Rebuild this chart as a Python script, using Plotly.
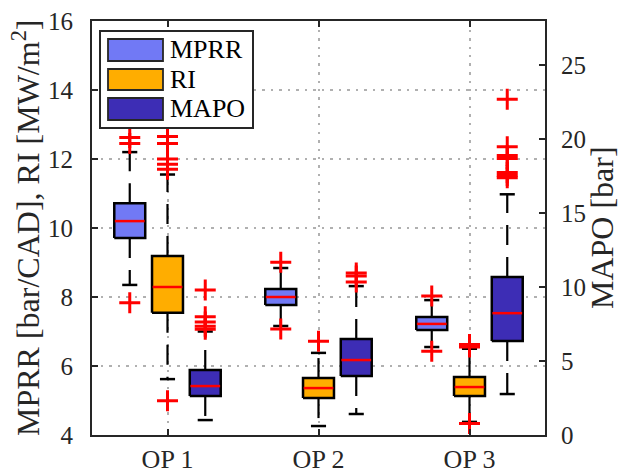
import plotly.graph_objects as go

# Operating points on the category axis
groups = ["OP 1", "OP 2", "OP 3"]

# MPRR [bar/CAD] box statistics (left axis)
mprr_q1 = [9.71, 7.77, 7.04]
mprr_med = [10.2, 8.0, 7.22]
mprr_q3 = [10.72, 8.23, 7.42]
mprr_lo = [8.35, 7.16, 6.55]
mprr_hi = [12.2, 8.84, 7.91]
mprr_out = [[12.62, 12.45, 7.83], [9.01, 7.07], [8.03, 6.43]]

# RI [MW/m^2] box statistics (left axis)
ri_q1 = [7.54, 5.07, 5.13]
ri_med = [8.29, 5.36, 5.39]
ri_q3 = [9.19, 5.65, 5.68]
ri_lo = [5.62, 4.26, 4.38]
ri_hi = [11.55, 6.38, 6.5]
ri_out = [[12.65, 12.45, 12.0, 11.85, 11.7, 4.99], [6.72], [6.62, 6.55, 4.33]]

# MAPO [bar] box statistics (right axis)
mapo_q1 = [2.64, 3.99, 6.35]
mapo_med = [3.31, 5.07, 8.24]
mapo_q3 = [4.39, 6.49, 10.68]
mapo_lo = [1.01, 1.42, 2.77]
mapo_hi = [7.0, 10.07, 16.28]
mapo_out = [[9.8, 8.0, 7.65, 7.35, 7.15], [10.95, 10.75, 10.34],
            [22.7, 19.5, 18.9, 18.7, 17.75, 17.55, 17.4]]

FONT = "Liberation Serif, Times New Roman, serif"
INK = "#262626"
series = [
    dict(name="MPRR", color="#7179f5", q1=mprr_q1, med=mprr_med, q3=mprr_q3,
         lo=mprr_lo, hi=mprr_hi, out=mprr_out, offset=-0.25, yaxis="y"),
    dict(name="RI", color="#ffad00", q1=ri_q1, med=ri_med, q3=ri_q3,
         lo=ri_lo, hi=ri_hi, out=ri_out, offset=0.0, yaxis="y"),
    dict(name="MAPO", color="#3d2db5", q1=mapo_q1, med=mapo_med, q3=mapo_q3,
         lo=mapo_lo, hi=mapo_hi, out=mapo_out, offset=0.25, yaxis="y2"),
]
BOX_W = 0.205
CAP_W = 0.1

fig = go.Figure()

for s in series:
    centers = [i + 1 + s["offset"] for i in range(len(groups))]
    # dashed whiskers, drawn outward from the box edges
    wx, wy = [], []
    for c, q1, q3, lo, hi in zip(centers, s["q1"], s["q3"], s["lo"], s["hi"]):
        wx += [c, c, None, c, c, None]
        wy += [q3, hi, None, q1, lo, None]
    fig.add_trace(go.Scatter(x=wx, y=wy, mode="lines", yaxis=s["yaxis"],
                             line=dict(color="black", width=2.2, dash="20px,12px"),
                             hoverinfo="skip", showlegend=False))
    # whisker caps
    cx, cy = [], []
    for c, lo, hi in zip(centers, s["lo"], s["hi"]):
        cx += [c - CAP_W / 2, c + CAP_W / 2, None, c - CAP_W / 2, c + CAP_W / 2, None]
        cy += [hi, hi, None, lo, lo, None]
    fig.add_trace(go.Scatter(x=cx, y=cy, mode="lines", yaxis=s["yaxis"],
                             line=dict(color="black", width=2.5),
                             hoverinfo="skip", showlegend=False))
    # filled boxes
    for c, q1, q3 in zip(centers, s["q1"], s["q3"]):
        fig.add_trace(go.Scatter(
            x=[c - BOX_W / 2, c + BOX_W / 2, c + BOX_W / 2, c - BOX_W / 2, c - BOX_W / 2],
            y=[q1, q1, q3, q3, q1], mode="lines", fill="toself",
            fillcolor=s["color"], yaxis=s["yaxis"],
            line=dict(color="black", width=2.5), hoverinfo="skip", showlegend=False))
    # medians
    mx, my = [], []
    for c, m in zip(centers, s["med"]):
        mx += [c - BOX_W / 2 + 0.004, c + BOX_W / 2 - 0.004, None]
        my += [m, m, None]
    fig.add_trace(go.Scatter(x=mx, y=my, mode="lines", yaxis=s["yaxis"],
                             line=dict(color="#ff0000", width=2.5),
                             hoverinfo="skip", showlegend=False))
    # outliers
    ox, oy = [], []
    for c, outs in zip(centers, s["out"]):
        ox += [c] * len(outs)
        oy += outs
    fig.add_trace(go.Scatter(x=ox, y=oy, mode="markers", yaxis=s["yaxis"],
                             marker=dict(symbol="cross-thin", size=15,
                                         line=dict(color="#ff0000", width=3)),
                             hoverinfo="skip", showlegend=False))

# plot-area pixel geometry for placing the legend
L, R, T, B = 92, 545, 21, 435


def px(xp):
    return (xp - L) / (R - L)


def py(yp):
    return (B - yp) / (B - T)


shapes = [dict(type="rect", xref="paper", yref="paper",
               x0=px(100), x1=px(253), y0=py(128), y1=py(31),
               fillcolor="white", line=dict(color=INK, width=2), layer="above")]
annotations = []
for s, (top, bot) in zip(series, [(39, 61), (69, 90), (98, 120)]):
    shapes.append(dict(type="rect", xref="paper", yref="paper",
                       x0=px(108), x1=px(163), y0=py(bot), y1=py(top),
                       fillcolor=s["color"], line=dict(color=INK, width=1.8),
                       layer="above"))
    annotations.append(dict(xref="paper", yref="paper", x=px(168), y=py((top + bot) / 2),
                            text=s["name"], showarrow=False, xanchor="left",
                            yanchor="middle", font=dict(family=FONT, size=26, color="black")))

annotations.append(dict(xref="paper", yref="paper", x=0, y=0.5, xshift=-66,
                        text="MPRR [bar/CAD], RI [MW/m<sup>2</sup>]", textangle=-90,
                        showarrow=False, xanchor="center", yanchor="middle",
                        font=dict(family=FONT, size=32, color=INK)))
annotations.append(dict(xref="paper", yref="paper", x=1, y=0.5, xshift=57,
                        text="MAPO [bar]", textangle=-90,
                        showarrow=False, xanchor="center", yanchor="middle",
                        font=dict(family=FONT, size=32, color=INK)))

grid = dict(gridcolor="#b0b0b0", gridwidth=2, griddash="2.5px,6px")

fig.update_layout(
    width=622, height=473,
    margin=dict(l=L, r=622 - R, t=T, b=473 - B, autoexpand=False),
    paper_bgcolor="white", plot_bgcolor="white",
    showlegend=False,
    font=dict(family=FONT, size=25, color=INK),
    xaxis=dict(range=[0.5, 3.5], tickvals=[1, 2, 3], ticktext=groups,
               tickfont=dict(size=26), automargin=False,
               showline=True, linecolor=INK, linewidth=2, mirror="ticks",
               ticks="inside", ticklen=6, tickwidth=2, tickcolor=INK,
               showgrid=True, zeroline=False, ticklabelstandoff=0, **grid),
    yaxis=dict(range=[4, 16], tickvals=[4, 6, 8, 10, 12, 14, 16], automargin=False,
               showline=True, linecolor=INK, linewidth=2,
               ticks="inside", ticklen=6, tickwidth=2, tickcolor=INK,
               showgrid=True, zeroline=False, ticklabelstandoff=12, **grid),
    yaxis2=dict(range=[0, 28], tickvals=[0, 5, 10, 15, 20, 25], overlaying="y",
                side="right", showline=True, linecolor=INK, linewidth=2, automargin=False,
                ticks="inside", ticklen=6, tickwidth=2, tickcolor=INK,
                showgrid=False, zeroline=False, ticklabelstandoff=9),
    shapes=shapes, annotations=annotations,
)

fig.write_html("out.html")
